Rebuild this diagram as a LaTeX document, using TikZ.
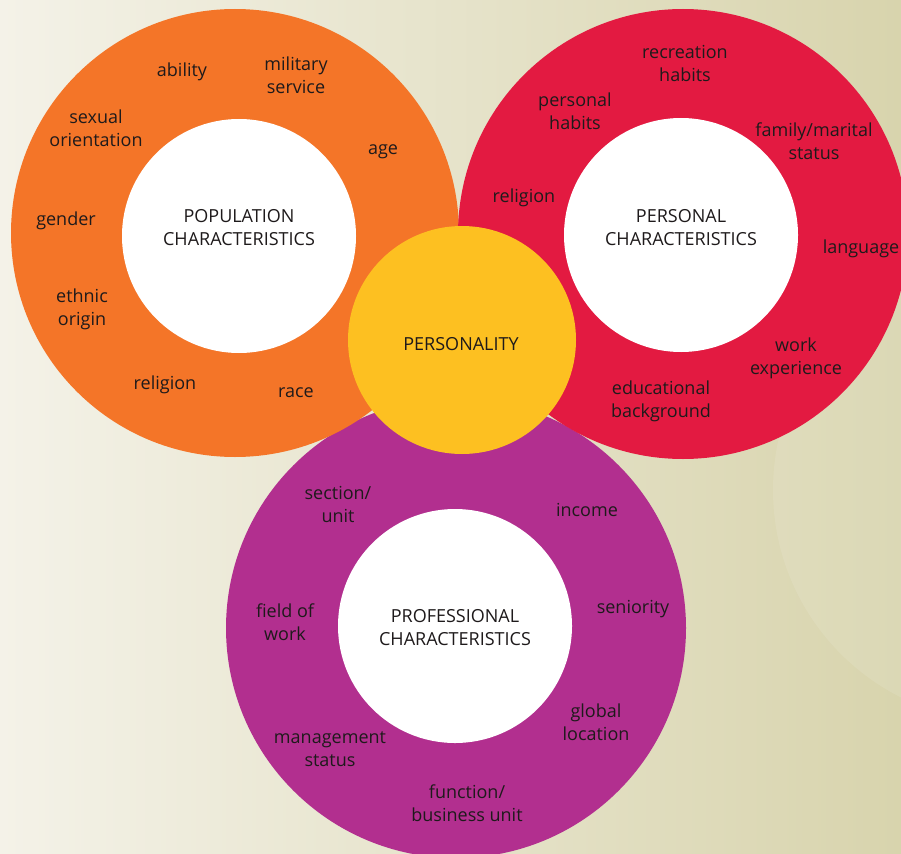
\documentclass[tikz,border=0pt]{standalone}
\usepackage{fontspec}
\setmainfont{Open Sans}
\usepackage{tikz}
\definecolor{bgleft}{HTML}{F4F2E8}
\definecolor{bgright}{HTML}{D8D4AD}
\definecolor{popcol}{HTML}{F47528}
\definecolor{perscol}{HTML}{E31A41}
\definecolor{profcol}{HTML}{B22F8F}
\definecolor{selfcol}{HTML}{FDC021}
\definecolor{ink}{HTML}{1E1A1B}

\begin{document}
\begin{tikzpicture}[x=1pt, y=-1pt,
    ring/.style={circle, inner sep=0pt, minimum size=#1},
    core/.style={circle, fill=white, inner sep=0pt, minimum size=234pt},
    item/.style={align=center, text=ink, font=\fontsize{18}{23}\selectfont}]
    \useasboundingbox (0,0) rectangle (901,853);
    \shade[left color=bgleft, right color=bgright] (0,0) rectangle (901,853);
    \fill[white, opacity=0.1] (1005,490) circle[radius=232pt];
    % the three rings and the centre
    \node[ring=460pt, fill=profcol] (3) at (456,628) {};
    \node[ring=448pt, fill=popcol] (1) at (235,233) {};
    \node[ring=450pt, fill=perscol] (2) at (683,234) {};
    \node[ring=228pt, fill=selfcol] (0) at (462,340) {};
    \node[core] (10) at (239,236) {};
    \node[core] (20) at (681,235) {};
    \node[core] (30) at (455,626) {};
    \node[item] (01) at (461,344) {PERSONALITY};
    \node[item] (19) at (239,228) {POPULATION\\CHARACTERISTICS};
    \node[item] (29) at (681,228) {PERSONAL\\CHARACTERISTICS};
    \node[item] (39) at (455,628) {PROFESSIONAL\\CHARACTERISTICS};
    % population
    \node[item] (11) at (182,72) {ability};
    \node[item] (12) at (296,75) {military\\service};
    \node[item] (13) at (96,128) {sexual\\orientation};
    \node[item] (14) at (383,152) {age};
    \node[item] (15) at (66,221) {gender};
    \node[item] (16) at (82,309) {ethnic\\origin};
    \node[item] (17) at (165,385) {religion};
    \node[item] (18) at (296,393) {race};
    % personal
    \node[item] (21) at (685,63) {recreation\\habits};
    \node[item] (22) at (575,111) {personal\\habits};
    \node[item] (23) at (814,141) {family/marital\\status};
    \node[item] (24) at (524,198) {religion};
    \node[item] (25) at (861,249) {language};
    \node[item] (26) at (796,358) {work\\experience};
    \node[item] (27) at (661,401) {educational\\background};
    % professional
    \node[item] (31) at (338,504) {section/\\unit};
    \node[item] (32) at (587,510) {income};
    \node[item] (33) at (285,622) {field of\\work};
    \node[item] (34) at (633,609) {seniority};
    \node[item] (35) at (596,722) {global\\location};
    \node[item] (36) at (330,749) {management\\status};
    \node[item] (37) at (467,803) {function/\\business unit};
\end{tikzpicture}
\end{document}
